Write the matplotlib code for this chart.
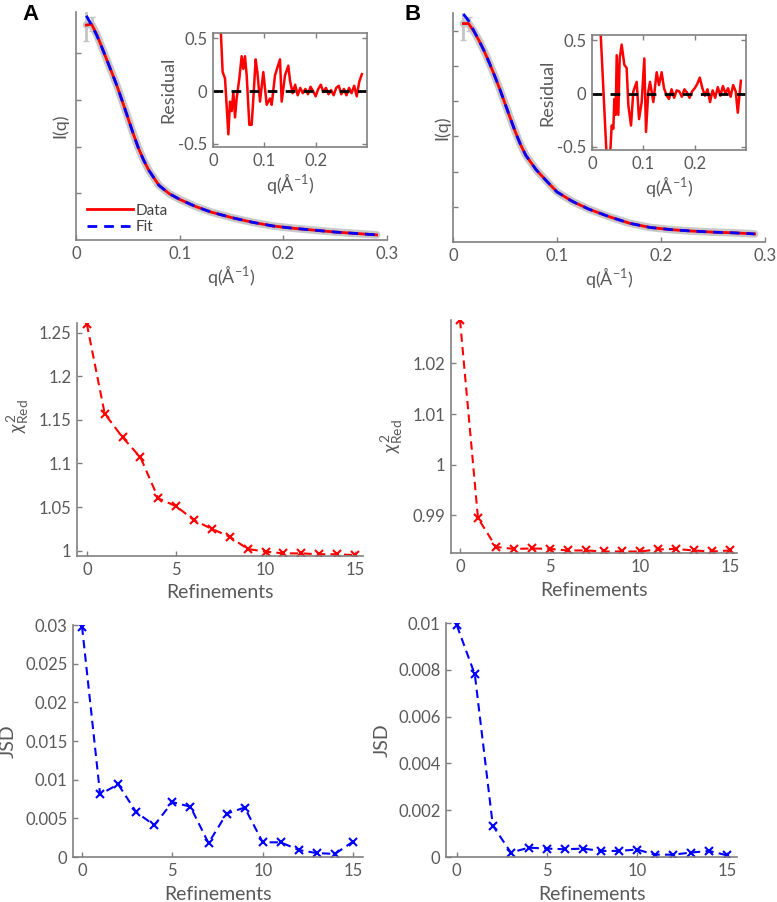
import matplotlib
matplotlib.use("Agg")
import matplotlib.pyplot as plt

plt.rcParams['font.family'] = ['Lato', 'DejaVu Sans']
plt.rcParams['mathtext.fontset'] = 'custom'
plt.rcParams['mathtext.rm'] = 'Lato'
plt.rcParams['mathtext.it'] = 'Lato:italic'

TXT = '#595959'
AXC = '#808080'

# --- scattering curves ---
q = [0.010, 0.015, 0.020, 0.025, 0.030, 0.035, 0.040, 0.045, 0.050, 0.055,
     0.060, 0.065, 0.070, 0.080, 0.090, 0.100, 0.115, 0.130, 0.150, 0.170,
     0.190, 0.210, 0.230, 0.250, 0.270, 0.290]

fit_A = [4.80, 4.60, 4.38, 4.12, 3.84, 3.56, 3.27, 2.95, 2.62, 2.29,
         1.98, 1.72, 1.50, 1.17, 0.99, 0.87, 0.72, 0.60, 0.48, 0.38,
         0.30, 0.25, 0.21, 0.17, 0.14, 0.11]
data_A = [4.60, 4.62, 4.40, 4.12, 3.84, 3.56, 3.27, 2.95, 2.62, 2.29,
          1.98, 1.72, 1.50, 1.17, 0.99, 0.87, 0.72, 0.60, 0.48, 0.38,
          0.30, 0.25, 0.21, 0.17, 0.14, 0.11]

fit_B = [6.47, 6.28, 6.00, 5.72, 5.42, 5.08, 4.72, 4.34, 3.93, 3.52,
         3.12, 2.76, 2.46, 2.05, 1.73, 1.42, 1.15, 0.94, 0.72, 0.53,
         0.41, 0.35, 0.31, 0.28, 0.26, 0.23]
data_B = [6.20, 6.20, 5.98, 5.72, 5.42, 5.08, 4.72, 4.34, 3.93, 3.52,
          3.12, 2.76, 2.46, 2.05, 1.73, 1.42, 1.15, 0.94, 0.72, 0.53,
          0.41, 0.35, 0.31, 0.28, 0.26, 0.23]

# --- residuals ---
q_res_A = [0.0149, 0.0188, 0.0234, 0.0299, 0.0331, 0.0364, 0.0396, 0.0429, 0.0461,
           0.0513, 0.0558, 0.0591, 0.0623, 0.0656, 0.0708, 0.0753, 0.0786, 0.0831,
           0.0864, 0.0916, 0.0980, 0.1046, 0.1110, 0.1143, 0.1208, 0.1305, 0.1338,
           0.1403, 0.1467, 0.150, 0.155, 0.160, 0.165, 0.170, 0.175, 0.180, 0.185,
           0.190, 0.195, 0.200, 0.205, 0.210, 0.215, 0.220, 0.225, 0.230, 0.235,
           0.240, 0.245, 0.250, 0.255, 0.260, 0.265, 0.270, 0.275, 0.280, 0.285,
           0.290]
res_A = [0.60, 0.18, 0.12, -0.41, -0.10, -0.19, -0.01, -0.25, -0.07,
         0.12, 0.33, 0.21, 0.33, 0.15, -0.32, -0.32, -0.07, 0.30,
         0.18, -0.10, 0.18, -0.13, -0.07, -0.13, 0.15, 0.30, -0.10,
         0.15, 0.24, 0.10, -0.02, 0.06, -0.04, 0.03, -0.02, 0.02, -0.03,
         0.04, 0.00, -0.05, 0.02, 0.06, -0.01, 0.03, -0.03, 0.01, -0.04,
         0.03, 0.05, -0.03, 0.02, -0.04, 0.03, -0.02, 0.05, -0.05, 0.09,
         0.16]

q_res_B = [0.0150, 0.0286, 0.0351, 0.0383, 0.0416, 0.0435, 0.0461, 0.0481, 0.0513,
           0.0539, 0.0578, 0.0630, 0.0675, 0.0708, 0.0760, 0.0805, 0.0870, 0.0916,
           0.0968, 0.1019, 0.1052, 0.1097, 0.1130, 0.1195, 0.1260, 0.1305, 0.1357,
           0.1403, 0.1455, 0.150, 0.155, 0.160, 0.165, 0.170, 0.175, 0.180, 0.185,
           0.190, 0.195, 0.200, 0.205, 0.210, 0.215, 0.220, 0.225, 0.230, 0.235,
           0.240, 0.245, 0.250, 0.255, 0.260, 0.265, 0.270, 0.275, 0.280, 0.284,
           0.290]
res_B = [0.75, -0.60, -0.60, -0.30, -0.33, -0.05, -0.20, 0.36, -0.20,
         0.33, 0.46, 0.27, 0.24, -0.11, -0.30, 0.02, 0.11, -0.24,
         -0.08, 0.33, -0.36, 0.02, 0.11, -0.08, 0.20, 0.08, 0.20,
         0.05, -0.02, -0.05, 0.04, -0.04, 0.03, 0.02, -0.03, 0.04, 0.01,
         -0.04, 0.02, 0.05, 0.09, 0.15, 0.05, -0.02, 0.04, -0.08, 0.03,
         -0.04, 0.06, -0.02, 0.07, 0.00, 0.05, -0.03, 0.08, 0.02, -0.18,
         0.12]

# --- refinement traces ---
refinements = list(range(16))
chi_A = [1.260, 1.157, 1.130, 1.107, 1.060, 1.051, 1.035, 1.025, 1.016, 1.002,
         0.999, 0.997, 0.997, 0.996, 0.996, 0.995]
chi_B = [1.0286, 0.9894, 0.9837, 0.9833, 0.9834, 0.9833, 0.9830, 0.9830, 0.9828,
         0.9828, 0.9828, 0.9832, 0.9833, 0.9830, 0.9828, 0.9830]
jsd_A = [0.0298, 0.0081, 0.0094, 0.0058, 0.0041, 0.0071, 0.0065, 0.0018, 0.0056,
         0.0064, 0.0019, 0.0019, 0.0009, 0.0005, 0.0004, 0.0020]
jsd_B = [0.0099, 0.0078, 0.00134, 0.00019, 0.0004, 0.00036, 0.00033, 0.00036,
         0.00026, 0.00026, 0.00032, 0.0001, 0.0001, 0.00019, 0.00026, 0.00007]

W, H = 777, 902
fig = plt.figure(figsize=(W / 100, H / 100), dpi=100)


def ax_px(left, top, right, bottom):
    return fig.add_axes([left / W, 1 - bottom / H, (right - left) / W, (bottom - top) / H])


def style(ax, box=False):
    for side in ['left', 'bottom', 'top', 'right']:
        ax.spines[side].set_color(AXC)
        ax.spines[side].set_linewidth(1.2)
    if not box:
        ax.spines['top'].set_visible(False)
        ax.spines['right'].set_visible(False)
    ax.tick_params(direction='in', length=3.5, width=1, colors=AXC,
                   labelcolor=TXT, labelsize=12, pad=4,
                   top=box, right=box)


def scattering(ax, fit, data, ymax, yticks):
    # gray error envelope under the measured curve
    ax.plot(q, data, color='#c8c8c8', lw=5.5, solid_capstyle='round', zorder=1)
    ax.errorbar(q[:2], data[:2], yerr=[0.35 * ymax / 4.9, 0.15 * ymax / 4.9],
                fmt='none', ecolor='#c4c4c4', elinewidth=2, capsize=2, zorder=1)
    ax.plot(q, data, color='red', lw=2, label='Data', zorder=2)
    ax.plot(q, fit, color='blue', lw=2, ls=(0, (3.5, 2.5)), label='Fit', zorder=3)
    style(ax)
    ax.set_xlim(0, 0.3)
    ax.set_ylim(0, ymax)
    ax.set_xticks([0, 0.1, 0.2, 0.3])
    ax.set_xticklabels(['0', '0.1', '0.2', '0.3'])
    ax.set_yticks(yticks)
    ax.set_yticklabels([])
    ax.set_xlabel(r'q($\rm\AA^{-1}$)', fontsize=13, color=TXT)
    ax.set_ylabel('I(q)', fontsize=13, color=TXT)


def residual(ax, qr, res):
    ax.plot(qr, res, color='red', lw=1.8)
    ax.axhline(0, color='black', lw=2, ls=(0, (3.5, 3)))
    style(ax, box=True)
    ax.set_xlim(0, 0.3)
    ax.set_ylim(-0.53, 0.55)
    ax.set_xticks([0, 0.1, 0.2])
    ax.set_xticklabels(['0', '0.1', '0.2'])
    ax.set_yticks([-0.5, 0, 0.5])
    ax.set_yticklabels(['-0.5', '0', '0.5'])
    ax.set_xlabel(r'q($\rm\AA^{-1}$)', fontsize=13, color=TXT, labelpad=2)
    ax.set_ylabel('Residual', fontsize=13, color=TXT, labelpad=1)


def trace(ax, y, color, ylim, yticks, ylabels, xlim, ylabel):
    ax.plot(refinements, y, color=color, ls=(0, (4, 2.5)), lw=1.5,
            marker='x', ms=6, mew=1.5)
    style(ax)
    ax.set_xlim(*xlim)
    ax.set_ylim(*ylim)
    ax.set_xticks([0, 5, 10, 15])
    ax.set_yticks(yticks)
    ax.set_yticklabels(ylabels)
    ax.set_xlabel('Refinements', fontsize=14, color=TXT, labelpad=5)
    ax.set_ylabel(ylabel, fontsize=14, color=TXT)


# --- top row: I(q) with inset residuals ---
axA = ax_px(76, 12, 387, 240)
scattering(axA, fit_A, data_A, 4.88, [1, 2, 3, 4])
axA.yaxis.set_label_coords(-0.026, 0.5)
axA.xaxis.set_label_coords(0.5, -0.10)
axA.legend(loc='lower left', bbox_to_anchor=(0.0, -0.02), frameon=False,
           fontsize=11, handlelength=3.0, handletextpad=0.2, labelspacing=0.15,
           labelcolor='#404040', borderaxespad=0.3)

axB = ax_px(453, 13, 765, 242)
scattering(axB, fit_B, data_B, 6.5, [1, 2, 3, 4, 5, 6])
axB.yaxis.set_label_coords(-0.01, 0.5)
axB.xaxis.set_label_coords(0.5, -0.10)

insA = ax_px(213, 33, 367, 147)
residual(insA, q_res_A, res_A)
insB = ax_px(592, 35, 746, 150)
residual(insB, q_res_B, res_B)

# --- middle row: reduced chi square ---
chi_label = r'$\chi^2_{\rm Red}$'
m_A = ax_px(77, 323, 363, 556)
trace(m_A, chi_A, 'red', (0.994, 1.261), [1, 1.05, 1.1, 1.15, 1.2, 1.25],
      ['1', '1.05', '1.1', '1.15', '1.2', '1.25'], (-0.55, 15.45), chi_label)
m_A.yaxis.set_label_coords(-0.16, 0.6)

m_B = ax_px(451, 320, 737, 553)
trace(m_B, chi_B, 'red', (0.9825, 1.0286), [0.99, 1, 1.01, 1.02],
      ['0.99', '1', '1.01', '1.02'], (-0.5, 15.4), chi_label)
m_B.yaxis.set_label_coords(-0.16, 0.5)

# --- bottom row: JSD ---
b_A = ax_px(73, 625, 363, 857)
trace(b_A, jsd_A, 'blue', (0, 0.03), [0, 0.005, 0.01, 0.015, 0.02, 0.025, 0.03],
      ['0', '0.005', '0.01', '0.015', '0.02', '0.025', '0.03'], (-0.5, 15.55), 'JSD')
b_A.yaxis.set_label_coords(-0.195, 0.5)

b_B = ax_px(446, 623, 737, 857)
trace(b_B, jsd_B, 'blue', (0, 0.01), [0, 0.002, 0.004, 0.006, 0.008, 0.01],
      ['0', '0.002', '0.004', '0.006', '0.008', '0.01'], (-0.6, 15.55), 'JSD')
b_B.yaxis.set_label_coords(-0.19, 0.5)

fig.text(22 / W, 1 - 4 / H, 'A', fontsize=16, fontweight='bold',
         family='Liberation Sans', va='top', ha='left')
fig.text(405 / W, 1 - 4 / H, 'B', fontsize=16, fontweight='bold',
         family='Liberation Sans', va='top', ha='left')

fig.savefig('out.png', dpi=100)
